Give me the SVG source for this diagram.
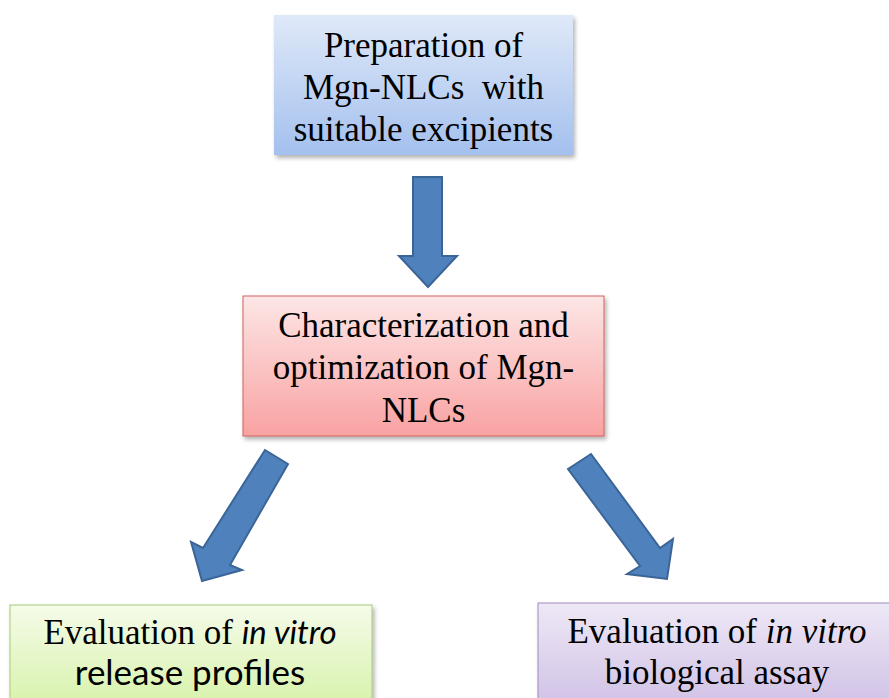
<svg xmlns="http://www.w3.org/2000/svg" width="889" height="698" viewBox="0 0 889 698">
<defs>
<linearGradient id="gBlue" x1="0" y1="0" x2="0" y2="1"><stop offset="0" stop-color="#dfe9f8"/><stop offset="1" stop-color="#a4c0ee"/></linearGradient>
<linearGradient id="gRed" x1="0" y1="0" x2="0" y2="1"><stop offset="0" stop-color="#fde6e6"/><stop offset="1" stop-color="#f9a2a2"/></linearGradient>
<linearGradient id="gGreen" x1="0" y1="0" x2="0" y2="1"><stop offset="0" stop-color="#f5fbe9"/><stop offset="1" stop-color="#d5f2a6"/></linearGradient>
<linearGradient id="gPurple" x1="0" y1="0" x2="0" y2="1"><stop offset="0" stop-color="#eee8f6"/><stop offset="1" stop-color="#cebfe4"/></linearGradient>
<filter id="sh" x="-10%" y="-10%" width="120%" height="130%"><feDropShadow dx="2" dy="3" stdDeviation="2" flood-color="#000" flood-opacity="0.3"/></filter>
</defs>
<style>
.serif{font-family:"Liberation Serif","Times New Roman",serif;font-size:35px;fill:#000;text-anchor:middle}
.sans{font-family:Lato,"Open Sans",sans-serif}
.arrow{fill:#4f81bd;stroke:#3b6597;stroke-width:2;stroke-linejoin:miter}
</style>
<g id="connectors">
<polygon class="arrow" points="413,177 442,177 442,256 457,256 428,287 399,256 413,256"/>
<polygon class="arrow" points="265,450 288,464 230,565 242,570 202,581 191,542 203,548"/>
<polygon class="arrow" points="568,469 591,454 660,548 673,539 667,579 627,574 640,566"/>
</g>
<g id="node-preparation">
<rect x="274" y="15" width="299" height="140" fill="url(#gBlue)" filter="url(#sh)"/>
<text class="serif" x="423.5" y="57">Preparation of</text>
<text class="serif" x="423.5" y="99" xml:space="preserve">Mgn-NLCs  with</text>
<text class="serif" x="423.5" y="141">suitable excipients</text>
</g>
<g id="node-characterization">
<rect x="243" y="296" width="361" height="140" fill="url(#gRed)" stroke="#d0605c" stroke-width="1" filter="url(#sh)"/>
<text class="serif" x="423.5" y="337">Characterization and</text>
<text class="serif" x="423.5" y="379">optimization of Mgn-</text>
<text class="serif" x="423.5" y="422">NLCs</text>
</g>
<g id="node-release">
<rect x="10" y="605" width="362" height="110" fill="url(#gGreen)" stroke="#a7c77a" stroke-width="1" filter="url(#sh)"/>
<text class="serif" x="190" y="644">Evaluation of <tspan class="sans" font-style="italic" font-size="33">in vitro</tspan></text>
<text class="serif sans" x="190" y="685" font-size="30">release profiles</text>
</g>
<g id="node-biological">
<rect x="538" y="603" width="370" height="110" fill="url(#gPurple)" stroke="#9f8bbd" stroke-width="1" filter="url(#sh)"/>
<text class="serif" x="717" y="643">Evaluation of <tspan font-style="italic">in vitro</tspan></text>
<text class="serif" x="717" y="684">biological assay</text>
</g>
</svg>
